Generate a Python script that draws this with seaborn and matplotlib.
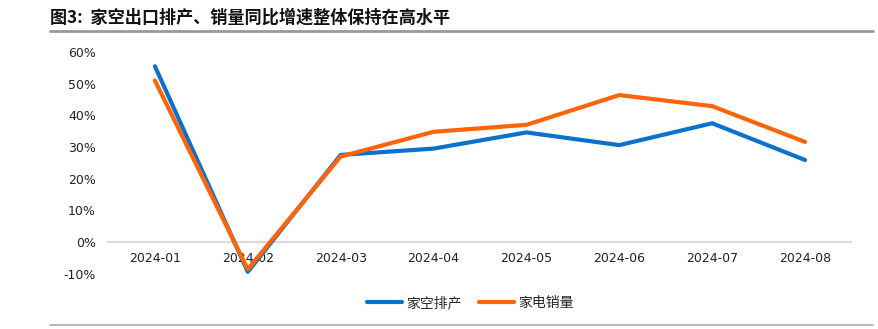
import matplotlib
matplotlib.use("Agg")
import matplotlib.pyplot as plt
from matplotlib.lines import Line2D
from matplotlib.ticker import FuncFormatter
import seaborn as sns
import pandas as pd

months = ["2024-01", "2024-02", "2024-03", "2024-04",
          "2024-05", "2024-06", "2024-07", "2024-08"]
ac_production = [55.5, -9.4, 27.5, 29.5, 34.6, 30.6, 37.5, 25.9]
appliance_sales = [51.0, -8.6, 27.0, 34.8, 37.0, 46.4, 42.9, 31.6]
series_names = ["家空排产", "家电销量"]
title = "图3:  家空出口排产、销量同比增速整体保持在高水平"

sns.set_theme(style="white")
plt.rcParams["font.family"] = ["Noto Sans CJK SC", "DejaVu Sans"]
plt.rcParams["axes.unicode_minus"] = False

df = pd.DataFrame({
    "month": months * 2,
    "value": ac_production + appliance_sales,
    "series": [series_names[0]] * len(months) + [series_names[1]] * len(months),
})
palette = {series_names[0]: "#0A72CC", series_names[1]: "#FF6409"}

fig = plt.figure(figsize=(8.79, 3.29), dpi=100)
ax = fig.add_axes([0.1234, 0.168, 0.8453, 0.674])

sns.lineplot(data=df, x="month", y="value", hue="series", palette=palette,
             linewidth=3.0, sort=False, legend=False, ax=ax)
for ln in ax.get_lines():
    ln.set_solid_capstyle("round")
    ln.set_solid_joinstyle("round")

ax.set_xlim(-0.5, len(months) - 0.5)
ax.set_ylim(-10, 60)
ax.set_yticks(range(-10, 61, 10))
ax.yaxis.set_major_formatter(FuncFormatter(lambda v, _: f"{v:.0f}%"))
ax.set_xlabel("")
ax.set_ylabel("")

for side in ["left", "right", "top"]:
    ax.spines[side].set_visible(False)
ax.spines["bottom"].set_position(("data", 0))
ax.spines["bottom"].set_color("#D9D9D9")
ax.spines["bottom"].set_linewidth(1.5)
ax.spines["bottom"].set_zorder(0)
ax.tick_params(axis="x", length=0, pad=7, labelsize=9, labelcolor="#222222")
ax.tick_params(axis="y", length=0, pad=9, labelsize=9, labelcolor="#222222")
for lbl in ax.get_xticklabels() + ax.get_yticklabels():
    lbl.set_family(["DejaVu Sans"])
ax.grid(False)

handles = [Line2D([0], [0], color=palette[n], lw=3.0, solid_capstyle="round")
           for n in series_names]
fig.legend(handles, series_names, loc="center", bbox_to_anchor=(0.535, 0.078),
           ncol=2, frameon=False, fontsize=10, handlelength=2.5,
           handletextpad=0.3, columnspacing=1.3)

fig.text(0.057, 0.945, title, fontsize=12.3, fontweight="bold",
         ha="left", va="center", color="#111111")
fig.add_artist(Line2D([0.057, 0.993], [0.906, 0.906], transform=fig.transFigure,
                      color="#999999", lw=2))
fig.add_artist(Line2D([0.057, 0.993], [0.012, 0.012], transform=fig.transFigure,
                      color="#AAAAAA", lw=1.2))

fig.savefig("out.png", dpi=100)
